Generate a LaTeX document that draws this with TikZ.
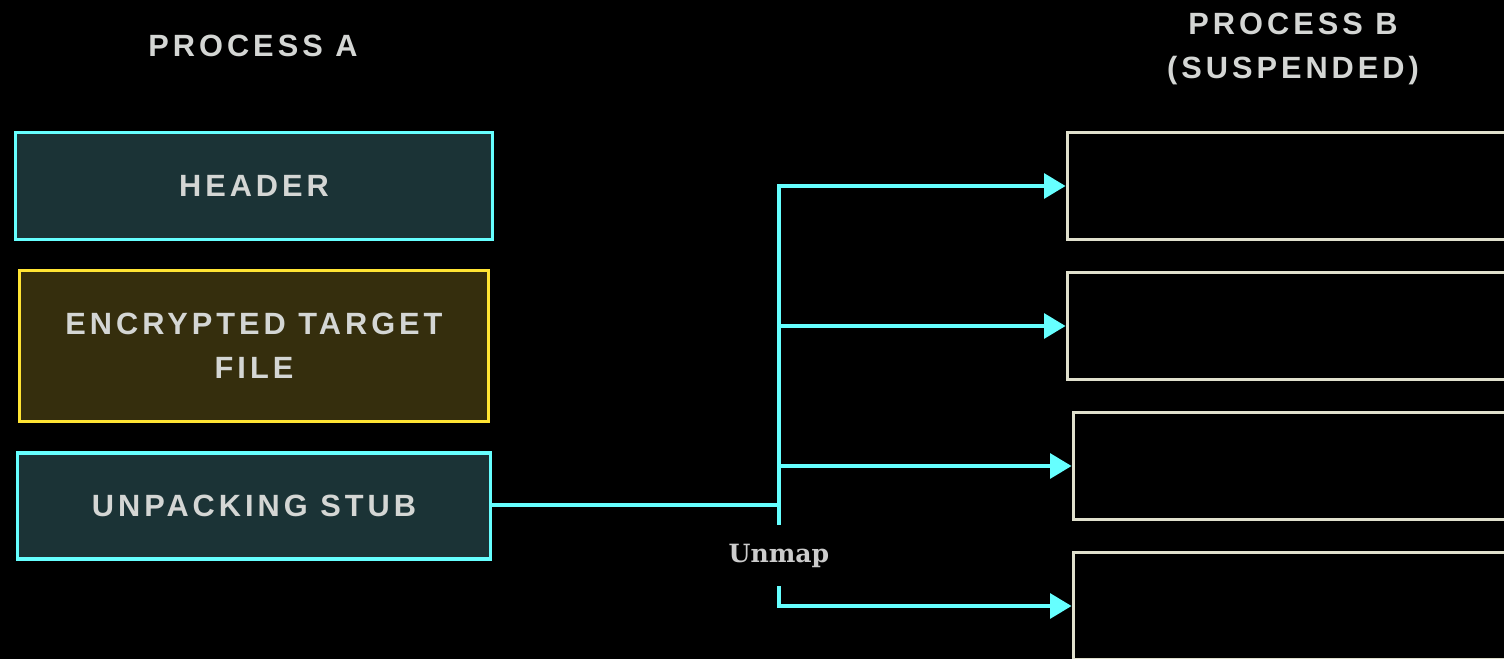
\documentclass[tikz,border=0pt]{standalone}
\usepackage{fontspec}
\setmainfont{Liberation Sans}
\newfontfamily\capsfont{Liberation Sans}[LetterSpace=13]
\newfontfamily\slabfont{DejaVu Serif}
\usetikzlibrary{arrows.meta}

\definecolor{wirecyan}{HTML}{66FFFF}
\definecolor{tealfill}{HTML}{1B3336}
\definecolor{goldline}{HTML}{FFE433}
\definecolor{goldfill}{HTML}{352E0D}
\definecolor{paleline}{HTML}{E0E0CD}
\definecolor{captext}{HTML}{D4D6D4}
\definecolor{notetext}{HTML}{CCCCCC}

\tikzset{
  captionfont/.style={font=\capsfont\bfseries\fontsize{17.5}{25}\selectfont},
  title/.style={captionfont, text=captext, align=center, inner sep=0pt},
  segment/.style={draw, line width=0.07cm, align=center, inner sep=0pt,
    captionfont, text=captext},
  tealseg/.style={segment, draw=wirecyan, fill=tealfill},
  goldseg/.style={segment, draw=goldline, fill=goldfill},
  slot/.style={draw=paleline, line width=0.07cm, fill=black, inner sep=0pt,
    minimum width=10cm, minimum height=2.14cm, anchor=west},
  wire/.style={draw=wirecyan, line width=0.065cm},
  feed/.style={wire, -{Triangle[length=0.43cm,width=0.5cm]}},
  note/.style={font=\slabfont\bfseries\fontsize{14.3}{16}\selectfont,
    text=notetext, inner sep=0pt, outer sep=0pt, minimum height=1.22cm}
}

\begin{document}
\begin{tikzpicture}[x=0.02cm, y=-0.02cm]
  % canvas
  \fill[black] (0,0) rectangle (1504,659);
  \useasboundingbox (0,0) rectangle (1504,659);

  % column headings
  \node[title] (ttlA) at (253,46) {PROCESS A};
  \node[title] (ttlB) at (1293,49) {PROCESS B\\(SUSPENDED)};

  % packed image in process A
  \node[tealseg, minimum width=9.54cm, minimum height=2.14cm] (hdr) at (254,186) {HEADER};
  \node[goldseg, minimum width=9.38cm, minimum height=3.02cm] (enc) at (254,346) {ENCRYPTED TARGET\\FILE};
  \node[tealseg, minimum width=9.46cm, minimum height=2.13cm] (stub) at (254,506) {UNPACKING STUB};

  % memory regions of the suspended process B
  \node[slot] (r1) at (1065.5,186) {};
  \node[slot] (r2) at (1065.5,326) {};
  \node[slot] (r3) at (1071.5,466) {};
  \node[slot] (r4) at (1071.5,606) {};

  % stub fans out into process B
  \coordinate (fork) at (779,505);
  \node[note] (unmap) at (779,555.5) {Unmap};

  \draw[wire] (stub.east |- fork) -- (fork);
  \draw[feed] (fork) |- (r1.west);
  \draw[feed] (fork) |- (r2.west);
  \draw[feed] (fork) |- (r3.west);
  \draw[wire] (fork) -- (unmap.north);
  \draw[feed] (unmap.south) |- (r4.west);
\end{tikzpicture}
\end{document}
